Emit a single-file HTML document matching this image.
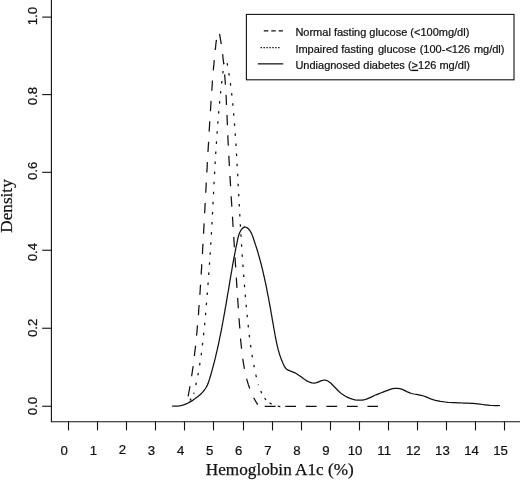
<!DOCTYPE html>
<html lang="en">
<head>
<meta charset="utf-8">
<title>Hemoglobin A1c density</title>
<style>
html,body{margin:0;padding:0;background:#fff;}
body{width:520px;height:480px;overflow:hidden;}
svg{display:block;}
.sans{font-family:"Liberation Sans",Arial,Helvetica,sans-serif;fill:#111;stroke:#111;stroke-width:0.22;}
.serif{font-family:"Liberation Serif","Times New Roman",Times,serif;fill:#111;stroke:#111;stroke-width:0.25;}
.ax{stroke:#111;stroke-width:1.1;fill:none;}
.cv{stroke:#111;stroke-width:1.25;fill:none;stroke-linejoin:round;}
</style>
</head>
<body>
<svg width="520" height="480" viewBox="0 0 520 480">
<rect x="0" y="0" width="520" height="480" fill="#ffffff"/>
<g class="ax">
<path d="M51.4,0 L51.4,421.7 L520,421.7"/>
<path d="M42.2,406.25 L51.4,406.25"/>
<path d="M42.2,328.25 L51.4,328.25"/>
<path d="M42.2,250.25 L51.4,250.25"/>
<path d="M42.2,172.30 L51.4,172.30"/>
<path d="M42.2,94.60 L51.4,94.60"/>
<path d="M42.2,17.10 L51.4,17.10"/>
<path d="M68.5,421.7 L68.5,430.4"/>
<path d="M97.5,421.7 L97.5,430.4"/>
<path d="M126.5,421.7 L126.5,430.4"/>
<path d="M155.5,421.7 L155.5,430.4"/>
<path d="M184.5,421.7 L184.5,430.4"/>
<path d="M213.5,421.7 L213.5,430.4"/>
<path d="M243.5,421.7 L243.5,430.4"/>
<path d="M272.5,421.7 L272.5,430.4"/>
<path d="M301.5,421.7 L301.5,430.4"/>
<path d="M330.5,421.7 L330.5,430.4"/>
<path d="M359.5,421.7 L359.5,430.4"/>
<path d="M388.5,421.7 L388.5,430.4"/>
<path d="M417.5,421.7 L417.5,430.4"/>
<path d="M446.5,421.7 L446.5,430.4"/>
<path d="M475.5,421.7 L475.5,430.4"/>
<path d="M504.5,421.7 L504.5,430.4"/>
</g>
<g class="sans" font-size="13.2" text-anchor="middle">
<text transform="translate(36.6,406.2) rotate(-90)">0.0</text>
<text transform="translate(36.6,327.9) rotate(-90)">0.2</text>
<text transform="translate(36.6,252.2) rotate(-90)">0.4</text>
<text transform="translate(36.6,170.8) rotate(-90)">0.6</text>
<text transform="translate(36.6,96.2) rotate(-90)">0.8</text>
<text transform="translate(36.6,16.1) rotate(-90)">1.0</text>
</g>
<g class="sans" font-size="13.2" text-anchor="middle">
<text x="64.2" y="454.7">0</text>
<text x="93.3" y="454.7">1</text>
<text x="122.4" y="453.6">2</text>
<text x="151.5" y="454.7">3</text>
<text x="180.6" y="454.7">4</text>
<text x="209.6" y="454.7">5</text>
<text x="238.7" y="454.7">6</text>
<text x="267.8" y="454.7">7</text>
<text x="296.9" y="454.7">8</text>
<text x="326.0" y="454.7">9</text>
<text x="355.1" y="454.7">10</text>
<text x="384.2" y="454.7">11</text>
<text x="413.3" y="454.7">12</text>
<text x="442.4" y="454.7">13</text>
<text x="471.5" y="454.7">14</text>
<text x="500.6" y="454.7">15</text>
</g>
<text class="serif" font-size="17.2" text-anchor="middle" x="279.8" y="475.2">Hemoglobin A1c (%)</text>
<text class="serif" font-size="17.2" text-anchor="middle" transform="translate(11.6,206) rotate(-90)">Density</text>
<path class="cv" stroke-dasharray="10.3 10.15" stroke-dashoffset="0" d="M188.1,396.4 L188.6,393.9 L189.0,391.5 L189.5,389.0 L189.9,386.6 L190.3,384.1 L190.7,381.7 L191.1,379.2 L191.5,376.8 L191.9,374.3 L192.3,371.9 L192.6,369.4 L193.0,367.0 L193.3,364.5 L193.6,362.0 L193.9,359.6 L194.2,357.1 L194.5,354.6 L194.8,352.2 L195.1,349.7 L195.4,347.2 L195.7,344.8 L195.9,342.3 L196.2,339.8 L196.4,337.3 L196.6,334.9 L196.9,332.4 L197.1,329.9 L197.3,327.4 L197.5,325.0 L197.8,322.5 L198.0,320.0 L198.2,317.5 L198.4,315.0 L198.6,312.6 L198.7,310.1 L198.9,307.6 L199.1,305.1 L199.3,302.6 L199.5,300.2 L199.7,297.7 L199.8,295.2 L200.0,292.7 L200.2,290.2 L200.3,287.8 L200.5,285.3 L200.7,282.8 L200.8,280.3 L201.0,277.8 L201.1,275.3 L201.3,272.9 L201.4,270.4 L201.6,267.9 L201.7,265.4 L201.9,262.9 L202.0,260.5 L202.2,258.0 L202.3,255.5 L202.5,253.0 L202.6,250.5 L202.7,248.0 L202.9,245.6 L203.0,243.1 L203.2,240.6 L203.3,238.1 L203.4,235.6 L203.6,233.1 L203.7,230.7 L203.8,228.2 L204.0,225.7 L204.1,223.2 L204.2,220.7 L204.4,218.2 L204.5,215.8 L204.6,213.3 L204.8,210.8 L204.9,208.3 L205.0,205.8 L205.2,203.3 L205.3,200.9 L205.4,198.4 L205.6,195.9 L205.7,193.4 L205.8,190.9 L206.0,188.4 L206.1,186.0 L206.2,183.5 L206.4,181.0 L206.5,178.5 L206.7,176.0 L206.8,173.5 L206.9,171.1 L207.1,168.6 L207.2,166.1 L207.3,163.6 L207.5,161.1 L207.6,158.7 L207.8,156.2 L207.9,153.7 L208.0,151.2 L208.2,148.7 L208.3,146.2 L208.5,143.8 L208.6,141.3 L208.8,138.8 L208.9,136.3 L209.0,133.8 L209.2,131.3 L209.3,128.9 L209.5,126.4 L209.6,123.9 L209.8,121.4 L209.9,118.9 L210.1,116.4 L210.2,114.0 L210.4,111.5 L210.6,109.0 L210.7,106.5 L210.9,104.0 L211.0,101.6 L211.2,99.1 L211.4,96.6 L211.5,94.1 L211.7,91.6 L211.9,89.2 L212.1,86.7 L212.2,84.2 L212.4,81.7 L212.6,79.3 L212.8,76.8 L213.0,74.3 L213.2,71.8 L213.4,69.4 L213.6,66.9 L213.9,64.4 L214.1,62.0 L214.3,59.5 L214.6,57.0 L214.8,54.6 L215.0,52.1 L215.3,49.6 L215.6,47.2 L215.8,44.7 L216.1,42.3 L216.4,39.8 L216.7,37.4 L217.0,34.9"/>
<path class="cv" stroke-dasharray="10.3 10.06" stroke-dashoffset="-0.6" d="M219.4,33.4 L219.9,35.8 L220.3,38.3 L220.7,40.7 L221.1,43.2 L221.5,45.6 L221.8,48.1 L222.1,50.5 L222.5,53.0 L222.8,55.5 L223.0,57.9 L223.3,60.4 L223.6,62.9 L223.8,65.3 L224.1,67.8 L224.3,70.3 L224.5,72.7 L224.7,75.2 L224.9,77.7 L225.1,80.1 L225.3,82.6 L225.4,85.1 L225.6,87.6 L225.7,90.0 L225.9,92.5 L226.0,95.0 L226.2,97.5 L226.3,99.9 L226.4,102.4 L226.5,104.9 L226.6,107.4 L226.7,109.9 L226.8,112.4 L227.0,114.8 L227.1,117.3 L227.2,119.8 L227.3,122.3 L227.4,124.8 L227.5,127.2 L227.6,129.7 L227.7,132.2 L227.8,134.7 L227.9,137.2 L228.0,139.7 L228.1,142.2 L228.3,144.6 L228.4,147.1 L228.5,149.6 L228.6,152.1 L228.8,154.6 L228.9,157.0 L229.0,159.5 L229.2,162.0 L229.3,164.5 L229.4,167.0 L229.6,169.5 L229.7,171.9 L229.9,174.4 L230.0,176.9 L230.2,179.4 L230.3,181.9 L230.5,184.4 L230.6,186.8 L230.8,189.3 L230.9,191.8 L231.1,194.3 L231.2,196.8 L231.4,199.2 L231.5,201.7 L231.7,204.2 L231.8,206.7 L232.0,209.2 L232.1,211.6 L232.3,214.1 L232.5,216.6 L232.6,219.1 L232.8,221.5 L232.9,224.0 L233.1,226.5 L233.2,229.0 L233.4,231.5 L233.5,233.9 L233.7,236.4 L233.9,238.9 L234.0,241.4 L234.2,243.8 L234.3,246.3 L234.5,248.8 L234.6,251.3 L234.8,253.7 L234.9,256.2 L235.1,258.7 L235.3,261.2 L235.4,263.6 L235.6,266.1 L235.7,268.6 L235.9,271.1 L236.0,273.5 L236.2,276.0 L236.4,278.5 L236.5,281.0 L236.7,283.4 L236.8,285.9 L237.0,288.4 L237.2,290.9 L237.3,293.4 L237.5,295.8 L237.7,298.3 L237.8,300.8 L238.0,303.3 L238.2,305.8 L238.3,308.2 L238.5,310.7 L238.7,313.2 L238.9,315.7 L239.0,318.2 L239.2,320.7 L239.4,323.2 L239.6,325.6 L239.8,328.1 L239.9,330.6 L240.1,333.1 L240.3,335.6 L240.5,338.1 L240.7,340.6 L241.0,343.1 L241.2,345.5 L241.5,348.0 L241.7,350.5 L242.0,353.0 L242.3,355.4 L242.6,357.9 L243.0,360.4 L243.4,362.8 L243.8,365.2 L244.2,367.7 L244.7,370.1 L245.2,372.5 L245.7,374.9 L246.3,377.3 L246.9,379.7 L247.6,382.1 L248.3,384.4 L249.1,386.8 L249.9,389.1 L250.8,391.4 L251.7,393.6 L252.8,395.9 L253.9,398.1 L255.1,400.3 L256.3,402.4 L257.7,404.6"/>
<path class="cv" stroke-dasharray="10.8 9.75" d="M264.7,406.4 L378,406.4"/>
<path class="cv" d="M260.8,391 L261.7,393.2 M264.6,398 L266,400 M269.6,402.8 L271.6,404.2 M277.8,406.2 L280.3,406.7"/>
<path class="cv" d="M190.0,400.5 L191.0,398.6"/>
<path class="cv" stroke-dasharray="2.5 7.6" stroke-dashoffset="1.2" d="M193.7,393.8 L194.3,391.4 L194.9,389.0 L195.4,386.6 L196.0,384.1 L196.5,381.7 L197.0,379.3 L197.5,376.9 L198.0,374.4 L198.4,372.0 L198.9,369.6 L199.3,367.1 L199.7,364.7 L200.1,362.2 L200.5,359.8 L200.8,357.3 L201.2,354.9 L201.5,352.4 L201.8,349.9 L202.1,347.5 L202.4,345.0 L202.7,342.6 L203.0,340.1 L203.3,337.6 L203.6,335.2 L203.8,332.7 L204.1,330.2 L204.3,327.8 L204.6,325.3 L204.8,322.8 L205.0,320.3 L205.2,317.9 L205.5,315.4 L205.7,312.9 L205.9,310.5 L206.1,308.0 L206.3,305.5 L206.5,303.0 L206.7,300.6 L206.9,298.1 L207.1,295.6 L207.3,293.1 L207.5,290.7 L207.7,288.2 L207.9,285.7 L208.1,283.2 L208.3,280.8 L208.5,278.3 L208.7,275.8 L208.8,273.3 L209.0,270.9 L209.2,268.4 L209.4,265.9 L209.5,263.4 L209.7,260.9 L209.8,258.5 L210.0,256.0 L210.2,253.5 L210.3,251.0 L210.5,248.6 L210.6,246.1 L210.8,243.6 L210.9,241.1 L211.1,238.6 L211.2,236.2 L211.4,233.7 L211.5,231.2 L211.7,228.7 L211.8,226.3 L211.9,223.8 L212.1,221.3 L212.2,218.8 L212.3,216.3 L212.5,213.9 L212.6,211.4 L212.7,208.9 L212.9,206.4 L213.0,203.9 L213.1,201.5 L213.2,199.0 L213.4,196.5 L213.5,194.0 L213.6,191.5 L213.8,189.1 L213.9,186.6 L214.0,184.1 L214.1,181.6 L214.3,179.1 L214.4,176.7 L214.5,174.2 L214.7,171.7 L214.8,169.2 L215.0,166.7 L215.1,164.3 L215.2,161.8 L215.4,159.3 L215.5,156.8 L215.7,154.3 L215.8,151.9 L216.0,149.4 L216.1,146.9 L216.3,144.4 L216.5,142.0 L216.6,139.5 L216.8,137.0 L217.0,134.5 L217.2,132.1 L217.3,129.6 L217.5,127.1 L217.7,124.6 L217.9,122.2 L218.1,119.7 L218.3,117.2 L218.5,114.7 L218.7,112.3 L219.0,109.8 L219.2,107.3 L219.4,104.9 L219.6,102.4 L219.9,99.9 L220.1,97.5 L220.4,95.0 L220.6,92.5 L220.9,90.0 L221.2,87.6 L221.4,85.1 L221.7,82.6 L222.0,80.2 L222.3,77.7 L222.6,75.3 L222.9,72.8 L223.2,70.3 L223.5,67.9 L223.9,65.4 L224.2,62.9"/>
<path class="cv" stroke-dasharray="2.5 7.6" stroke-dashoffset="5.5" d="M226.3,58.7 L226.7,61.2 L227.2,63.6 L227.7,66.1 L228.1,68.5 L228.5,70.9 L228.9,73.4 L229.3,75.8 L229.7,78.3 L230.0,80.8 L230.4,83.2 L230.7,85.7 L231.0,88.1 L231.3,90.6 L231.6,93.1 L231.9,95.5 L232.2,98.0 L232.4,100.5 L232.7,103.0 L232.9,105.4 L233.2,107.9 L233.4,110.4 L233.6,112.9 L233.8,115.4 L234.0,117.8 L234.2,120.3 L234.4,122.8 L234.6,125.3 L234.8,127.8 L235.0,130.2 L235.1,132.7 L235.3,135.2 L235.5,137.7 L235.6,140.2 L235.8,142.7 L236.0,145.2 L236.1,147.6 L236.3,150.1 L236.4,152.6 L236.6,155.1 L236.7,157.6 L236.9,160.1 L237.0,162.5 L237.1,165.0 L237.3,167.5 L237.4,170.0 L237.6,172.5 L237.7,175.0 L237.8,177.5 L238.0,179.9 L238.1,182.4 L238.2,184.9 L238.3,187.4 L238.5,189.9 L238.6,192.4 L238.7,194.9 L238.9,197.3 L239.0,199.8 L239.1,202.3 L239.3,204.8 L239.4,207.3 L239.5,209.8 L239.7,212.3 L239.8,214.7 L239.9,217.2 L240.1,219.7 L240.2,222.2 L240.3,224.7 L240.5,227.2 L240.6,229.7 L240.8,232.1 L240.9,234.6 L241.1,237.1 L241.2,239.6 L241.4,242.1 L241.5,244.6 L241.7,247.0 L241.9,249.5 L242.0,252.0 L242.2,254.5 L242.3,257.0 L242.5,259.5 L242.7,262.0 L242.9,264.4 L243.0,266.9 L243.2,269.4 L243.4,271.9 L243.6,274.4 L243.8,276.9 L244.0,279.3 L244.2,281.8 L244.4,284.3 L244.6,286.8 L244.8,289.3 L245.0,291.7 L245.2,294.2 L245.4,296.7 L245.6,299.2 L245.8,301.7 L246.1,304.2 L246.3,306.6 L246.5,309.1 L246.8,311.6 L247.0,314.1 L247.3,316.5 L247.5,319.0 L247.8,321.5 L248.0,324.0 L248.3,326.4 L248.6,328.9 L248.8,331.4 L249.1,333.9 L249.4,336.3 L249.7,338.8 L250.1,341.3 L250.4,343.7 L250.7,346.2 L251.1,348.7 L251.5,351.1 L251.8,353.6 L252.2,356.0 L252.7,358.5 L253.1,360.9 L253.5,363.4 L254.0,365.8 L254.5,368.2 L255.0,370.7 L255.5,373.1 L256.0,375.5 L256.6,377.9 L257.2,380.3 L257.8,382.8 L258.4,385.2"/>
<path class="cv" d="M171.9,406.0 L174.5,406.2 L177.1,406.2 L179.5,405.9 L181.9,405.3 L184.3,404.6 L186.6,403.7 L188.8,402.6 L191.0,401.4 L193.1,400.1 L195.2,398.6 L197.2,397.1 L199.2,395.5 L201.1,393.8 L202.8,391.9 L204.4,390.0 L205.8,388.0 L207.0,385.9 L208.0,383.6 L208.8,381.3 L209.6,378.9 L210.3,376.5 L211.0,374.1 L211.7,371.7 L212.3,369.3 L213.0,366.9 L213.6,364.5 L214.3,362.1 L214.9,359.6 L215.5,357.2 L216.0,354.8 L216.6,352.3 L217.2,349.9 L217.7,347.5 L218.3,345.0 L218.8,342.6 L219.3,340.1 L219.8,337.7 L220.3,335.2 L220.8,332.8 L221.3,330.3 L221.8,327.9 L222.2,325.4 L222.7,322.9 L223.1,320.5 L223.6,318.0 L224.0,315.6 L224.5,313.1 L224.9,310.7 L225.3,308.2 L225.8,305.7 L226.2,303.3 L226.6,300.8 L227.0,298.4 L227.4,295.9 L227.8,293.5 L228.3,291.0 L228.7,288.6 L229.1,286.1 L229.5,283.7 L229.9,281.2 L230.3,278.8 L230.7,276.3 L231.1,273.9 L231.6,271.4 L232.0,269.0 L232.4,266.5 L232.8,264.1 L233.3,261.6 L233.7,259.2 L234.2,256.7 L234.7,254.2 L235.2,251.7 L235.6,249.3 L236.1,246.8 L236.7,244.3 L237.2,241.7 L237.7,239.2 L238.3,236.7 L239.0,234.3 L240.0,232.0 L241.2,229.9 L242.7,228.1 L244.7,226.9 L246.8,227.5 L248.6,229.0 L250.1,230.9 L251.3,233.1 L252.3,235.4 L253.2,237.8 L254.0,240.3 L254.8,242.7 L255.6,245.1 L256.4,247.5 L257.2,250.0 L257.9,252.4 L258.6,254.8 L259.3,257.2 L259.9,259.6 L260.6,262.0 L261.2,264.4 L261.8,266.8 L262.4,269.2 L263.0,271.6 L263.5,274.1 L264.1,276.5 L264.6,278.9 L265.1,281.3 L265.7,283.7 L266.2,286.2 L266.7,288.6 L267.1,291.1 L267.6,293.5 L268.1,296.0 L268.6,298.4 L269.0,300.9 L269.5,303.3 L269.9,305.8 L270.4,308.3 L270.8,310.7 L271.2,313.2 L271.7,315.7 L272.1,318.1 L272.5,320.6 L273.0,323.1 L273.4,325.5 L273.8,328.0 L274.3,330.5 L274.7,332.9 L275.1,335.4 L275.6,337.8 L276.1,340.3 L276.6,342.7 L277.1,345.1 L277.7,347.6 L278.3,350.0 L279.0,352.4 L279.7,354.7 L280.5,357.1 L281.4,359.5 L282.3,361.8 L283.3,364.1 L284.4,366.4 L285.8,368.4 L287.7,369.9 L290.0,370.9 L292.5,371.8 L294.9,372.8 L297.0,374.0 L299.1,375.4 L301.1,376.8 L303.0,378.3 L305.1,379.8 L307.3,381.1 L309.6,382.2 L311.9,382.9 L314.3,383.1 L316.8,382.6 L319.2,381.6 L321.7,380.6 L324.1,380.0 L326.4,380.3 L328.6,381.5 L330.6,383.0 L332.4,384.7 L334.1,386.5 L335.8,388.3 L337.4,390.0 L339.2,391.7 L341.1,393.4 L343.2,394.8 L345.4,396.2 L347.7,397.4 L350.1,398.4 L352.5,399.2 L354.9,399.8 L357.4,400.1 L359.9,400.2 L362.3,400.1 L364.8,399.6 L367.1,398.9 L369.4,397.9 L371.6,396.9 L373.9,395.8 L376.1,394.8 L378.4,393.9 L380.7,393.0 L383.0,392.1 L385.4,391.2 L387.8,390.3 L390.2,389.4 L392.6,388.7 L395.1,388.3 L397.5,388.3 L399.8,388.6 L402.2,389.4 L404.5,390.4 L406.8,391.6 L409.2,392.6 L411.5,393.5 L414.0,394.0 L416.4,394.4 L418.8,394.8 L421.2,395.3 L423.6,396.0 L426.0,396.9 L428.3,397.9 L430.7,398.8 L433.0,399.6 L435.4,400.3 L437.9,400.8 L440.3,401.3 L442.7,401.7 L445.2,402.0 L447.7,402.3 L450.2,402.5 L452.7,402.6 L455.2,402.7 L457.7,402.8 L460.2,402.9 L462.7,403.0 L465.2,403.0 L467.7,403.1 L470.2,403.3 L472.7,403.4 L475.2,403.6 L477.7,403.9 L480.1,404.2 L482.6,404.5 L485.1,404.8 L487.5,405.1 L490.0,405.4 L492.5,405.5 L495.0,405.6 L497.5,405.6 L500.0,405.5"/>
<rect x="246.4" y="14.4" width="267.6" height="65.4" fill="#fff" stroke="#111" stroke-width="1.1"/>
<path class="cv" stroke-width="1.45" stroke-dasharray="4.5 2.95" d="M263.8,30.9 L283,30.9"/>
<path class="cv" stroke-width="1.45" stroke-dasharray="1.45 1.48" d="M260.5,47.55 L279.6,47.55"/>
<path class="cv" stroke-width="1.4" d="M257.8,63.85 L283.2,63.85"/>
<g class="sans" font-size="11">
<text x="295.4" y="36.1">Normal fasting glucose (&lt;100mg/dl)</text>
<text x="295.4" y="52.8">Impaired fasting<tspan dx="1.2"> glucose</tspan><tspan dx="0.8"> (100-&lt;126</tspan><tspan dx="0.7"> mg/dl)</tspan></text>
<text x="295.4" y="68.9">Undiagnosed diabetes (<tspan text-decoration="underline">&gt;</tspan>126 mg/dl)</text>
</g>
</svg>
</body>
</html>
